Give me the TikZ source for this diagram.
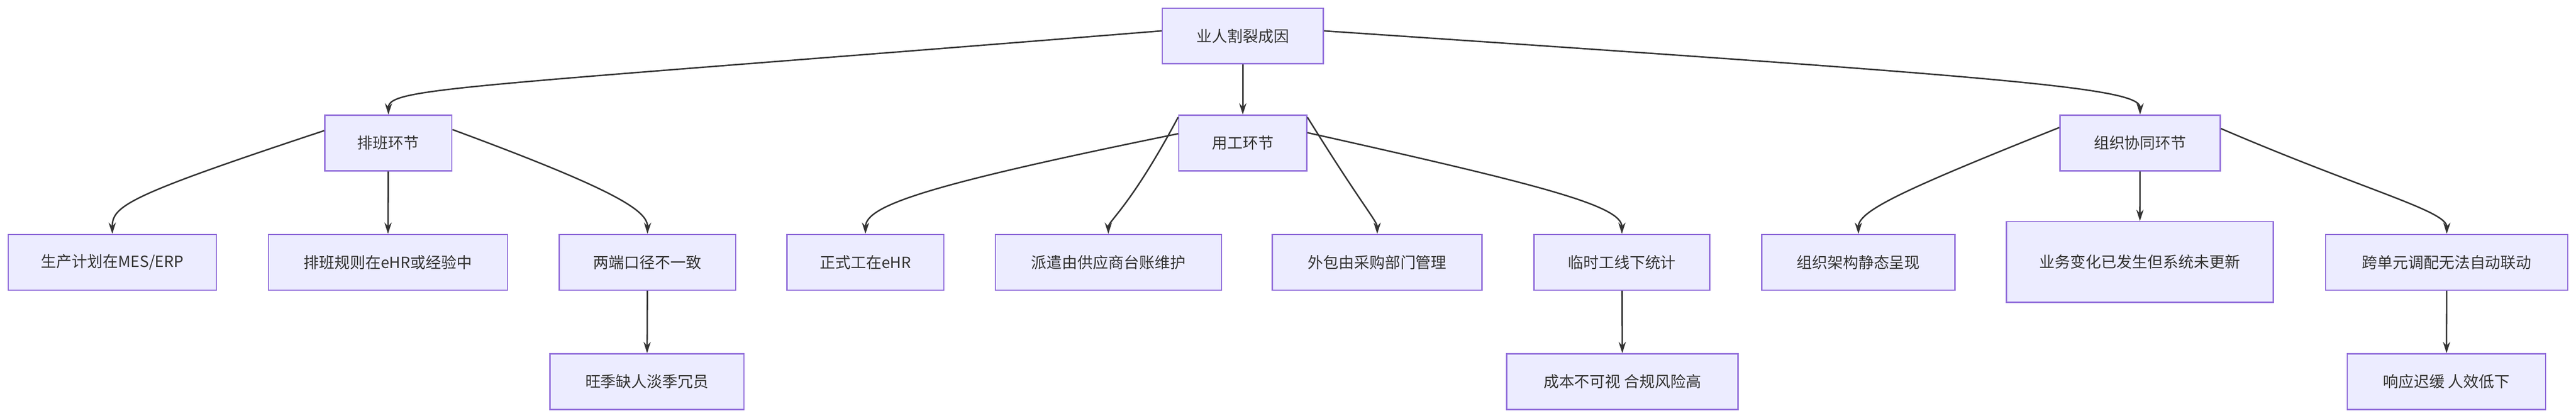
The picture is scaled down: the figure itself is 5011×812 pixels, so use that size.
\documentclass[tikz,border=0pt]{standalone}
\usepackage{fontspec}
\setmainfont{Noto Sans CJK SC}
\usetikzlibrary{arrows.meta}
\begin{document}
\begin{tikzpicture}[x=1pt,y=-1pt,
  box/.style={draw=violet!60!blue!70!white, draw=mbord, fill=mfill, line width=2.5pt, inner sep=0pt, font=\fontsize{30}{44}\selectfont, text=black!80, align=center},
  arr/.style={draw=black!80, line width=2.8pt, -{Stealth[length=22pt,width=14pt]}}]
\definecolor{mbord}{HTML}{9370DB}
\definecolor{mfill}{HTML}{ECECFF}
\useasboundingbox[fill=white] (0,0) rectangle (5011,812);
\newcommand{\bx}[6]{\node[box,minimum width=#4-#3,minimum height=#6-#5] (#1) at ({(#3+#4)/2},{(#5+#6)/2}) {#2};}
\bx{r}{业人割裂成因}{2261}{2574}{16}{124}
\bx{a}{排班环节}{632}{879}{224}{332}
\bx{b}{用工环节}{2293}{2542}{224}{332}
\bx{c}{组织协同环节}{4007}{4319}{224}{332}
\bx{a1}{生产计划在MES/ERP}{16}{421}{456}{564}
\bx{a2}{排班规则在eHR或经验中}{522}{987}{456}{564}
\bx{a3}{两端口径不一致}{1088}{1431}{456}{564}
\bx{a4}{旺季缺人淡季冗员}{1070}{1447}{688}{796}
\bx{b1}{正式工在eHR}{1531}{1836}{456}{564}
\bx{b2}{派遣由供应商台账维护}{1936}{2376}{456}{564}
\bx{b3}{外包由采购部门管理}{2475}{2883}{456}{564}
\bx{b4}{临时工线下统计}{2984}{3326}{456}{564}
\bx{b5}{成本不可视 合规风险高}{2931}{3381}{688}{796}
\bx{c1}{组织架构静态呈现}{3427}{3803}{456}{564}
\node[box,minimum width=519,minimum height=157,text width=400] (c2) at (4162.5,509.5) {业务变化已发生但系统未更新};
\bx{c3}{跨单元调配无法自动联动}{4524}{4995}{456}{564}
\bx{c4}{响应迟缓 人效低下}{4566}{4952}{688}{796}
\draw[arr] ([yshift=10]r.west) .. controls (900,170) and (756,170) .. (a.north);
\draw[arr] (r) -- (b);
\draw[arr] ([yshift=10]r.east) .. controls (3900,150) and (4163,170) .. (c.north);
\draw[arr] ([yshift=24]a.west) .. controls (250,380) and (218,400) .. (a1.north);
\draw[arr] (a) -- (a2);
\draw[arr] ([yshift=26]a.east) .. controls (1200,370) and (1260,410) .. (a3.north);
\draw[arr] (a3) -- (a4);
\draw[arr] ([yshift=18]b.west) .. controls (1800,360) and (1684,400) .. (b1.north);
\draw[arr] ([yshift=50]b.west) .. controls (2200,400) and (2156,430) .. (b2.north);
\draw[arr] ([yshift=50]b.east) .. controls (2650,400) and (2679,430) .. (b3.north);
\draw[arr] ([yshift=20]b.east) .. controls (3000,360) and (3155,400) .. (b4.north);
\draw[arr] (b4) -- (b5);
\draw[arr] ([yshift=30]c.west) .. controls (3700,370) and (3615,410) .. (c1.north);
\draw[arr] (c) -- (c2);
\draw[arr] ([yshift=28]c.east) .. controls (4600,370) and (4760,410) .. (c3.north);
\draw[arr] (c3) -- (c4);
\end{tikzpicture}
\end{document}
